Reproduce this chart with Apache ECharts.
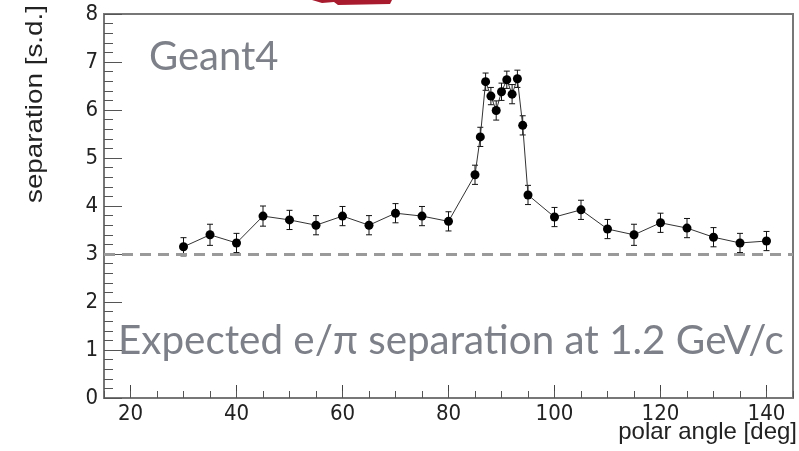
<!DOCTYPE html>
<html>
<head>
<meta charset="utf-8">
<script src="https://cdn.jsdelivr.net/npm/echarts@6/dist/echarts.min.js"></script>
<style>
html,body{margin:0;padding:0;background:#fff;}
#chart{width:799px;height:451px;}
</style>
</head>
<body>
<div id="chart"></div>
<script>
// ---- data ----
const angles = [30, 35, 40, 45, 50, 55, 60, 65, 70, 75, 80, 85, 86, 87, 88, 89, 90, 91, 92, 93, 94, 95, 100, 105, 110, 115, 120, 125, 130, 135, 140];
const separation = [3.15, 3.40, 3.23, 3.79, 3.71, 3.60, 3.79, 3.60, 3.85, 3.79, 3.68, 4.65, 5.44, 6.59, 6.29, 5.99, 6.38, 6.63, 6.33, 6.65, 5.68, 4.23, 3.77, 3.92, 3.52, 3.40, 3.65, 3.54, 3.35, 3.23, 3.27];
const errors = [0.19, 0.22, 0.2, 0.21, 0.2, 0.2, 0.2, 0.2, 0.2, 0.2, 0.2, 0.2, 0.2, 0.18, 0.18, 0.2, 0.18, 0.18, 0.2, 0.18, 0.2, 0.2, 0.2, 0.2, 0.2, 0.22, 0.2, 0.2, 0.2, 0.2, 0.2];
const xMajorTicks = [20, 40, 60, 80, 100, 120, 140];
const expectedLevel = 3;
const yTitle = 'separation [s.d.]';
const xTitle = 'polar angle [deg]';
const label1 = 'Geant4';
const label2 = 'Expected e/\u03c0 separation at 1.2 GeV/c';

const points = angles.map((a, i) => [a, separation[i]]);
const errData = angles.map((a, i) => [a, separation[i], errors[i]]);

const chart = echarts.init(document.getElementById('chart'));
const gridLeft = 104, gridTop = 14, gridRight = 6, gridBottom = 53;
const frameColor = '#777';
const labelFont = {fontFamily: '"Liberation Sans Narrow", "DejaVu Sans Condensed", sans-serif', fontSize: 22, color: '#222'};

chart.setOption({
  animation: false,
  backgroundColor: '#fff',
  grid: {left: gridLeft, top: gridTop, right: gridRight, bottom: gridBottom, show: true, borderColor: frameColor, borderWidth: 2, backgroundColor: 'transparent'},
  xAxis: [{
    type: 'value', min: 15, max: 145, interval: 5,
    axisLine: {show: true, onZero: false, lineStyle: {color: frameColor, width: 2}},
    axisTick: {show: true, inside: true, length: 13, customValues: xMajorTicks, lineStyle: {color: '#444', width: 1}},
    axisLabel: {show: true, customValues: xMajorTicks, margin: 5, ...labelFont},
    splitLine: {show: false}
  }, {
    type: 'value', min: 15, max: 145, interval: 5, position: 'bottom', gridIndex: 0,
    axisLine: {show: false},
    axisTick: {show: true, inside: true, length: 7, lineStyle: {color: '#555', width: 1}},
    axisLabel: {show: false},
    splitLine: {show: false}
  }],
  yAxis: {
    type: 'value', min: 0, max: 8, interval: 1,
    axisLine: {show: true, onZero: false, lineStyle: {color: frameColor, width: 2}},
    axisTick: {show: true, inside: true, length: 18, lineStyle: {color: '#555', width: 1}},
    minorTick: {show: true, splitNumber: 5, length: 9, lineStyle: {color: '#555', width: 1}},
    axisLabel: {margin: 6, ...labelFont},
    splitLine: {show: false}
  },
  series: [{
    type: 'custom',
    xAxisIndex: 0,
    data: errData,
    z: 3,
    renderItem: function (params, api) {
      const x = api.value(0), y = api.value(1), e = api.value(2);
      const top = api.coord([x, y + e]);
      const bot = api.coord([x, y - e]);
      const style = {stroke: '#111', lineWidth: 1};
      return {type: 'group', children: [
        {type: 'line', shape: {x1: top[0], y1: top[1], x2: bot[0], y2: bot[1]}, style},
        {type: 'line', shape: {x1: top[0] - 3, y1: top[1], x2: top[0] + 3, y2: top[1]}, style},
        {type: 'line', shape: {x1: bot[0] - 3, y1: bot[1], x2: bot[0] + 3, y2: bot[1]}, style}
      ]};
    }
  }, {
    type: 'line',
    xAxisIndex: 0,
    data: points,
    symbol: 'circle',
    symbolSize: 9,
    itemStyle: {color: '#000'},
    lineStyle: {color: '#333', width: 1},
    z: 4,
    markLine: {
      silent: true, symbol: 'none', label: {show: false},
      lineStyle: {color: '#9a9a9a', width: 3, type: [11, 7]},
      data: [{yAxis: expectedLevel}]
    }
  }],
  graphic: [
    {type: 'polygon', shape: {points: [[312, 0], [392, 0], [390, 4], [338, 5], [334, 2], [322, 3]]}, style: {fill: '#a81a2e'}},
    {type: 'text', left: 149, top: 37, style: {text: label1, font: '40px Lato', fill: '#7d8088'}},
    {type: 'text', left: 118, top: 321, style: {text: label2, font: '40.4px Lato', fill: '#7d8088'}},
    {type: 'text', x: 35, y: 104, rotation: Math.PI / 2, scaleX: 1.16, style: {text: yTitle, font: '24px "Liberation Sans"', fill: '#222', align: 'center', verticalAlign: 'middle'}},
    {type: 'text', right: 2, top: 420, style: {text: xTitle, font: '24px "Liberation Sans"', fill: '#222'}}
  ]
});
</script>
</body>
</html>
